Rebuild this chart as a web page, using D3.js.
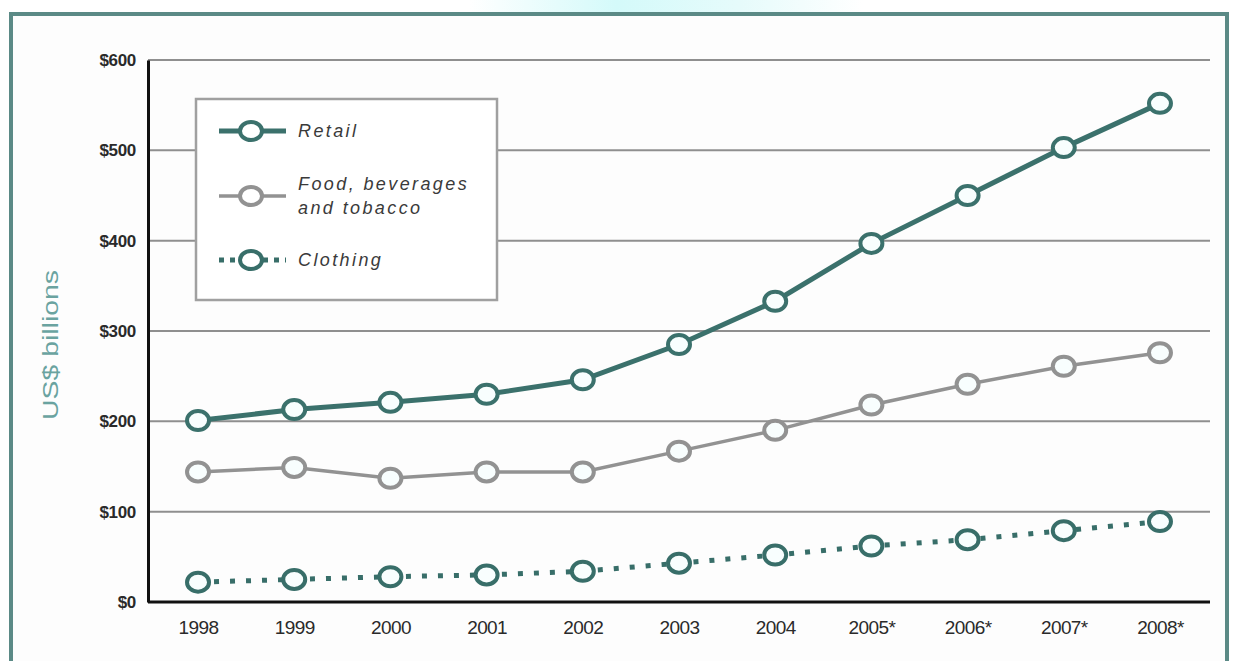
<!DOCTYPE html>
<html>
<head>
<meta charset="utf-8">
<script src="https://cdn.jsdelivr.net/npm/d3@7"></script>
<style>
  html, body { margin: 0; padding: 0; background: #ffffff; }
  svg { display: block; }
</style>
</head>
<body>
<svg id="chart" width="1233" height="661"></svg>
<script>
// Years along the x axis (starred years are forecasts)
const years = ["1998", "1999", "2000", "2001", "2002", "2003", "2004", "2005*", "2006*", "2007*", "2008*"];

// Sales, US$ billions
const retail   = [201, 213, 221, 230, 246, 285, 333, 397, 450, 503, 552];
const food     = [144, 149, 137, 144, 144, 167, 190, 218, 241, 261, 276];
const clothing = [22, 25, 28, 30, 34, 43, 52, 62, 69, 79, 89];

const yTicks = [0, 100, 200, 300, 400, 500, 600];
const legendLabels = [["Retail"], ["Food, beverages", "and tobacco"], ["Clothing"]];

const series = [
  { name: "Retail", values: retail, color: "#3b716c", width: 5, dash: null },
  { name: "Food", values: food, color: "#929292", width: 3.5, dash: null },
  { name: "Clothing", values: clothing, color: "#386e69", width: 5, dash: "5 11" }
];

const svg = d3.select("#chart");

// faint cyan glow above the frame
const defs = svg.append("defs");
const glow = defs.append("linearGradient").attr("id", "glow").attr("x1", 0).attr("x2", 1);
glow.append("stop").attr("offset", "0.38").attr("stop-color", "#ffffff");
glow.append("stop").attr("offset", "0.5").attr("stop-color", "#d4fafa");
glow.append("stop").attr("offset", "0.6").attr("stop-color", "#e6fbfb");
glow.append("stop").attr("offset", "0.7").attr("stop-color", "#ffffff");
svg.append("rect").attr("x", 0).attr("y", 0).attr("width", 1233).attr("height", 14).attr("fill", "url(#glow)");

// outer frame
svg.append("rect")
  .attr("x", 11).attr("y", 14).attr("width", 1216).attr("height", 660)
  .attr("fill", "#fdfdfd").attr("stroke", "#5b8a86").attr("stroke-width", 4);

const plotLeft = 148, plotRight = 1210, plotTop = 60, plotBottom = 602;

const x = d3.scalePoint().domain(years).range([plotLeft, plotRight]).padding(0.52);
const y = d3.scaleLinear().domain([0, 600]).range([plotBottom, plotTop]);

// gridlines
svg.append("g")
  .selectAll("line")
  .data(yTicks.filter(d => d > 0))
  .join("line")
  .attr("x1", plotLeft).attr("x2", plotRight)
  .attr("y1", d => y(d)).attr("y2", d => y(d))
  .attr("stroke", "#8f8f8f").attr("stroke-width", 2);

// y axis
const yAxis = svg.append("g")
  .attr("transform", `translate(${plotLeft},0)`)
  .call(d3.axisLeft(y).tickValues(yTicks).tickSize(0).tickPadding(12).tickFormat(d => "$" + d));
yAxis.select(".domain").attr("stroke", "#111").attr("stroke-width", 3);
yAxis.selectAll("text")
  .attr("font-family", "'Liberation Sans', Arial, sans-serif")
  .attr("font-size", 17).attr("font-weight", "bold").attr("fill", "#2a2a2a")
  .attr("letter-spacing", "-0.3");

// x axis
const xAxis = svg.append("g")
  .attr("transform", `translate(0,${plotBottom})`)
  .call(d3.axisBottom(x).tickSize(0).tickPadding(19));
xAxis.select(".domain").attr("stroke", "#111").attr("stroke-width", 3)
  .attr("d", `M${plotLeft},0H${plotRight}`);
xAxis.selectAll("text")
  .attr("font-family", "'Liberation Sans', Arial, sans-serif")
  .attr("font-size", 19).attr("fill", "#2a2a2a").attr("letter-spacing", "-0.6");

// y axis title
svg.append("text")
  .attr("transform", "translate(58,345) rotate(-90)")
  .attr("text-anchor", "middle")
  .attr("font-family", "'Liberation Sans', Arial, sans-serif")
  .attr("font-size", 22).attr("fill", "#6aa3a0")
  .attr("textLength", 150).attr("lengthAdjust", "spacingAndGlyphs")
  .text("US$ billions");

// legend
const lg = svg.append("g");
lg.append("rect").attr("x", 196).attr("y", 99).attr("width", 301).attr("height", 201)
  .attr("fill", "#ffffff").attr("stroke", "#a0a0a0").attr("stroke-width", 2.5);

const legendY = [131, 196, 260];
series.forEach((s, i) => {
  const g = lg.append("g").attr("transform", `translate(0,${legendY[i]})`);
  g.append("line").attr("x1", 219).attr("x2", 286).attr("y1", 0).attr("y2", 0)
    .attr("stroke", s.color).attr("stroke-width", s.width)
    .attr("stroke-dasharray", s.dash ? "5 6" : null);
  g.append("ellipse").attr("cx", 251).attr("cy", 0).attr("rx", 11).attr("ry", 9)
    .attr("fill", "#ffffff").attr("stroke", s.color).attr("stroke-width", 4);
  const lines = legendLabels[i];
  const t = g.append("text")
    .attr("font-family", "'Liberation Sans', Arial, sans-serif")
    .attr("font-size", 18).attr("font-style", "italic").attr("fill", "#3a3a3a")
    .attr("letter-spacing", "2.4");
  lines.forEach((ln, k) => {
    t.append("tspan").attr("x", 298)
      .attr("y", (k - (lines.length - 1) / 2) * 24 + 6)
      .text(ln);
  });
});

// series lines and markers
const line = d3.line().x((d, i) => x(years[i])).y(d => y(d));
series.forEach(s => {
  svg.append("path")
    .datum(s.values)
    .attr("d", line)
    .attr("fill", "none")
    .attr("stroke", s.color)
    .attr("stroke-width", s.width)
    .attr("stroke-dasharray", s.dash);
  svg.append("g")
    .selectAll("ellipse")
    .data(s.values)
    .join("ellipse")
    .attr("cx", (d, i) => x(years[i]))
    .attr("cy", d => y(d))
    .attr("rx", 11).attr("ry", 9.5)
    .attr("fill", "#f8fefe")
    .attr("stroke", s.color)
    .attr("stroke-width", 4);
});
</script>
</body>
</html>
